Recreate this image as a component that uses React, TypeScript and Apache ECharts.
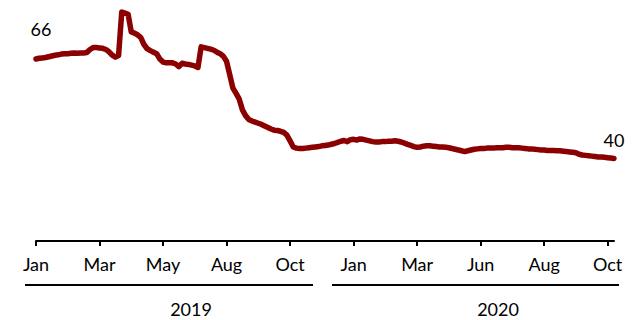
import React, { useEffect, useRef } from "react";
import * as echarts from "echarts";

// Tick labels shown every 20 points along the category axis
const tickLabels = ["Jan", "Mar", "May", "Aug", "Oct", "Jan", "Mar", "Jun", "Aug", "Oct"];
const yearLabels = ["2019", "2020"];
const pointsPerTick = 20;

// Series values
const values = [
  65.6, 65.8, 65.9, 66.0, 66.2, 66.4, 66.6, 66.7, 66.9, 67.0,
  67.0, 67.1, 67.2, 67.1, 67.2, 67.2, 67.3, 68.1, 68.6, 68.6,
  68.5, 68.4, 68.1, 67.5, 66.6, 66.1, 66.5, 77.9, 77.6, 77.3,
  72.7, 72.4, 71.9, 71.2, 69.4, 68.3, 67.8, 67.4, 67.0, 65.6,
  64.8, 64.6, 64.6, 64.6, 64.3, 63.6, 64.5, 64.3, 64.2, 64.0,
  63.8, 63.4, 68.8, 68.6, 68.4, 68.2, 67.9, 67.4, 67.0, 66.3,
  65.0, 61.5, 58.0, 56.6, 55.1, 52.3, 50.8, 49.8, 49.4, 49.1,
  48.8, 48.5, 48.1, 47.7, 47.3, 47.0, 46.9, 46.7, 46.4, 45.7,
  44.2, 42.6, 42.3, 42.2, 42.2, 42.3, 42.4, 42.5, 42.6, 42.7,
  42.9, 43.0, 43.1, 43.3, 43.5, 43.8, 44.1, 44.3, 44.0, 44.5,
  44.6, 44.4, 44.7, 44.6, 44.4, 44.2, 44.0, 43.9, 43.9, 44.0,
  44.0, 44.1, 44.1, 44.2, 44.1, 43.9, 43.6, 43.3, 43.0, 42.7,
  42.5, 42.6, 42.8, 42.9, 42.9, 42.8, 42.7, 42.6, 42.6, 42.5,
  42.4, 42.2, 42.0, 41.8, 41.6, 41.4, 41.6, 41.8, 42.0, 42.1,
  42.2, 42.2, 42.3, 42.3, 42.3, 42.4, 42.4, 42.4, 42.5, 42.5,
  42.4, 42.4, 42.4, 42.3, 42.2, 42.1, 42.1, 42.0, 41.9, 41.8,
  41.8, 41.7, 41.7, 41.7, 41.6, 41.6, 41.5, 41.4, 41.3, 41.2,
  41.1, 40.7, 40.5, 40.4, 40.3, 40.2, 40.1, 40.0, 40.0, 39.9,
  39.8, 39.7, 39.6,
];

const categories = values.map((_, i) => String(i));

const FONT = "Lato, 'Noto Sans', sans-serif";

export default function App() {
  const ref = useRef<HTMLDivElement>(null);

  useEffect(() => {
    if (!ref.current) return;
    const chart = echarts.init(ref.current, null, { renderer: "svg" });
    const last = values.length - 1;
    const isTick = (i: number) =>
      i % pointsPerTick === 0 && i / pointsPerTick < tickLabels.length;

    chart.setOption({
      animation: false,
      backgroundColor: "#ffffff",
      grid: { left: 36, right: 25, top: 4, bottom: 79, containLabel: false },
      xAxis: {
        type: "category",
        data: categories,
        boundaryGap: false,
        axisLine: { show: true, lineStyle: { color: "#000", width: 2 } },
        axisTick: {
          show: true,
          interval: (i: number) => isTick(i),
          length: 5,
          lineStyle: { color: "#000", width: 2 },
        },
        axisLabel: {
          show: true,
          interval: (i: number) => isTick(i),
          formatter: (_v: string, i: number) => tickLabels[i / pointsPerTick] ?? "",
          color: "#000",
          fontFamily: FONT,
          fontSize: 18,
          margin: 14,
        },
        splitLine: { show: false },
      },
      yAxis: {
        type: "value",
        min: 18,
        max: 80,
        show: false,
        splitLine: { show: false },
      },
      series: [
        {
          type: "line",
          data: values,
          symbol: "none",
          smooth: false,
          lineStyle: { color: "#8B0000", width: 5.5, join: "round", cap: "round" },
          markPoint: {
            symbol: "rect",
            symbolSize: 1,
            itemStyle: { color: "rgba(0,0,0,0)" },
            label: {
              show: true,
              position: "inside",
              color: "#000",
              fontFamily: FONT,
              fontSize: 18,
              formatter: (p: any) => String(p.value),
            },
            data: [
              {
                coord: [0, values[0]],
                value: Math.round(values[0]),
                label: { offset: [5, -30] },
              },
              {
                coord: [last, values[last]],
                value: Math.round(values[last]),
                label: { offset: [0, -18] },
              },
            ],
          },
        },
      ],
      graphic: [
        {
          type: "line",
          shape: { x1: 25, y1: 285, x2: 313, y2: 285 },
          style: { stroke: "#000", lineWidth: 2 },
        },
        {
          type: "line",
          shape: { x1: 332, y1: 285, x2: 619, y2: 285 },
          style: { stroke: "#000", lineWidth: 2 },
        },
        {
          type: "text",
          x: 191,
          y: 309,
          style: {
            text: yearLabels[0],
            fill: "#000",
            fontFamily: FONT,
            fontSize: 18,
            lineHeight: 18,
            textAlign: "center",
            textVerticalAlign: "middle",
          },
        },
        {
          type: "text",
          x: 498,
          y: 309,
          style: {
            text: yearLabels[1],
            fill: "#000",
            fontFamily: FONT,
            fontSize: 18,
            lineHeight: 18,
            textAlign: "center",
            textVerticalAlign: "middle",
          },
        },
      ],
    });

    return () => chart.dispose();
  }, []);

  return (
    <div
      ref={ref}
      style={{ position: "fixed", left: 0, top: 0, width: 639, height: 320 }}
    />
  );
}
